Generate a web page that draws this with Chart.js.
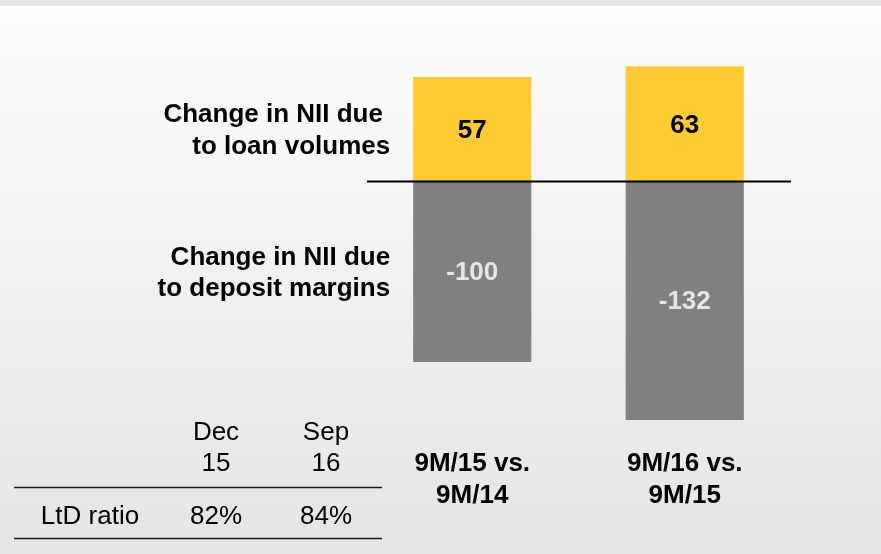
<!DOCTYPE html>
<html>
<head>
<meta charset="utf-8">
<script src="https://cdn.jsdelivr.net/npm/chart.js@4"></script>
<style>
  html, body { margin: 0; padding: 0; }
  body {
    width: 881px;
    height: 554px;
    overflow: hidden;
    background: linear-gradient(to bottom, #e5e5e5 0px, #e5e5e5 6px, #fdfdfd 6px, #e4e4e4 554px);
  }
  #wrap { position: absolute; left: 0; top: 0; width: 881px; height: 554px; }
</style>
</head>
<body>
<div id="wrap"><canvas id="nii"></canvas></div>
<script>
// Chart data
const categories = [['9M/15 vs.', '9M/14'], ['9M/16 vs.', '9M/15']];
const loanVolumes = [57, 63];
const depositMargins = [-100, -132];
const seriesLabels = [['Change in NII due ', 'to loan volumes'], ['Change in NII due', 'to deposit margins']];

// LtD table
const tableHeaders = [['Dec', '15'], ['Sep', '16']];
const tableRowLabel = 'LtD ratio';
const tableValues = ['82%', '84%'];

const FONT = '"Liberation Sans", Arial, sans-serif';

// Labels inside bars, zero line, series labels on the left, category labels below
const annotatePlugin = {
    id: 'annotate',
    afterDatasetsDraw(chart) {
        const ctx = chart.ctx;
        const area = chart.chartArea;
        const y = chart.scales.y;
        const x = chart.scales.x;

        ctx.save();

        // values in the bars
        ctx.textAlign = 'center';
        ctx.textBaseline = 'middle';
        ctx.font = 'bold 26px ' + FONT;
        chart.data.datasets.forEach((ds, i) => {
            const meta = chart.getDatasetMeta(i);
            meta.data.forEach((bar, j) => {
                const cy = (bar.y + bar.base) / 2;
                ctx.fillStyle = i === 0 ? '#000000' : '#e6e6e6';
                ctx.fillText(String(ds.data[j]), bar.x, cy + 2);
            });
        });

        // zero line
        const y0 = Math.round(y.getPixelForValue(0)) + 0.5;
        ctx.strokeStyle = '#000000';
        ctx.lineWidth = 2;
        ctx.beginPath();
        ctx.moveTo(area.left + 1, y0);
        ctx.lineTo(area.right, y0);
        ctx.stroke();

        // series labels, aligned to the first bar of each series
        ctx.fillStyle = '#000000';
        ctx.textAlign = 'right';
        chart.data.datasets.forEach((ds, i) => {
            const bar = chart.getDatasetMeta(i).data[0];
            const cy = (bar.y + bar.base) / 2;
            const lines = seriesLabels[i];
            const lh = 31.5;
            const rightX = bar.x - bar.width / 2 - 23;
            lines.forEach((t, k) => {
                ctx.fillText(t, rightX, cy + (k - (lines.length - 1) / 2) * lh + 2);
            });
        });

        // category labels
        ctx.textAlign = 'center';
        categories.forEach((lines, j) => {
            const cx = x.getPixelForValue(j);
            lines.forEach((t, k) => {
                ctx.fillText(t, cx, 464 + k * 31.5);
            });
        });

        // LtD table
        ctx.font = '26px ' + FONT;
        const colX = [216, 326];
        tableHeaders.forEach((lines, c) => {
            lines.forEach((t, k) => {
                ctx.fillText(t, colX[c], 433 + k * 31);
            });
        });
        ctx.fillText(tableRowLabel, 90, 517);
        tableValues.forEach((t, c) => {
            ctx.fillText(t, colX[c], 517);
        });
        ctx.strokeStyle = '#1a1a1a';
        ctx.lineWidth = 1.3;
        [487, 538].forEach(ly => {
            ctx.beginPath();
            ctx.moveTo(14, ly + 0.5);
            ctx.lineTo(382, ly + 0.5);
            ctx.stroke();
        });

        ctx.restore();
    }
};

new Chart(document.getElementById('nii'), {
    type: 'bar',
    data: {
        labels: categories,
        datasets: [
            {
                label: 'Change in NII due to loan volumes',
                data: loanVolumes,
                backgroundColor: '#ffcb33',
                borderWidth: 0
            },
            {
                label: 'Change in NII due to deposit margins',
                data: depositMargins,
                backgroundColor: '#808080',
                borderWidth: 0
            }
        ]
    },
    options: {
        responsive: true,
        maintainAspectRatio: false,
        animation: false,
        events: [],
        layout: {
            padding: { left: 366, right: 90, top: 53.5, bottom: 119.4 }
        },
        datasets: {
            bar: {
                barPercentage: 1,
                categoryPercentage: 0.556
            }
        },
        plugins: {
            legend: { display: false },
            tooltip: { enabled: false }
        },
        scales: {
            x: {
                stacked: true,
                display: false
            },
            y: {
                stacked: true,
                display: false,
                min: -140,
                max: 70
            }
        }
    },
    plugins: [annotatePlugin]
});
</script>
</body>
</html>
